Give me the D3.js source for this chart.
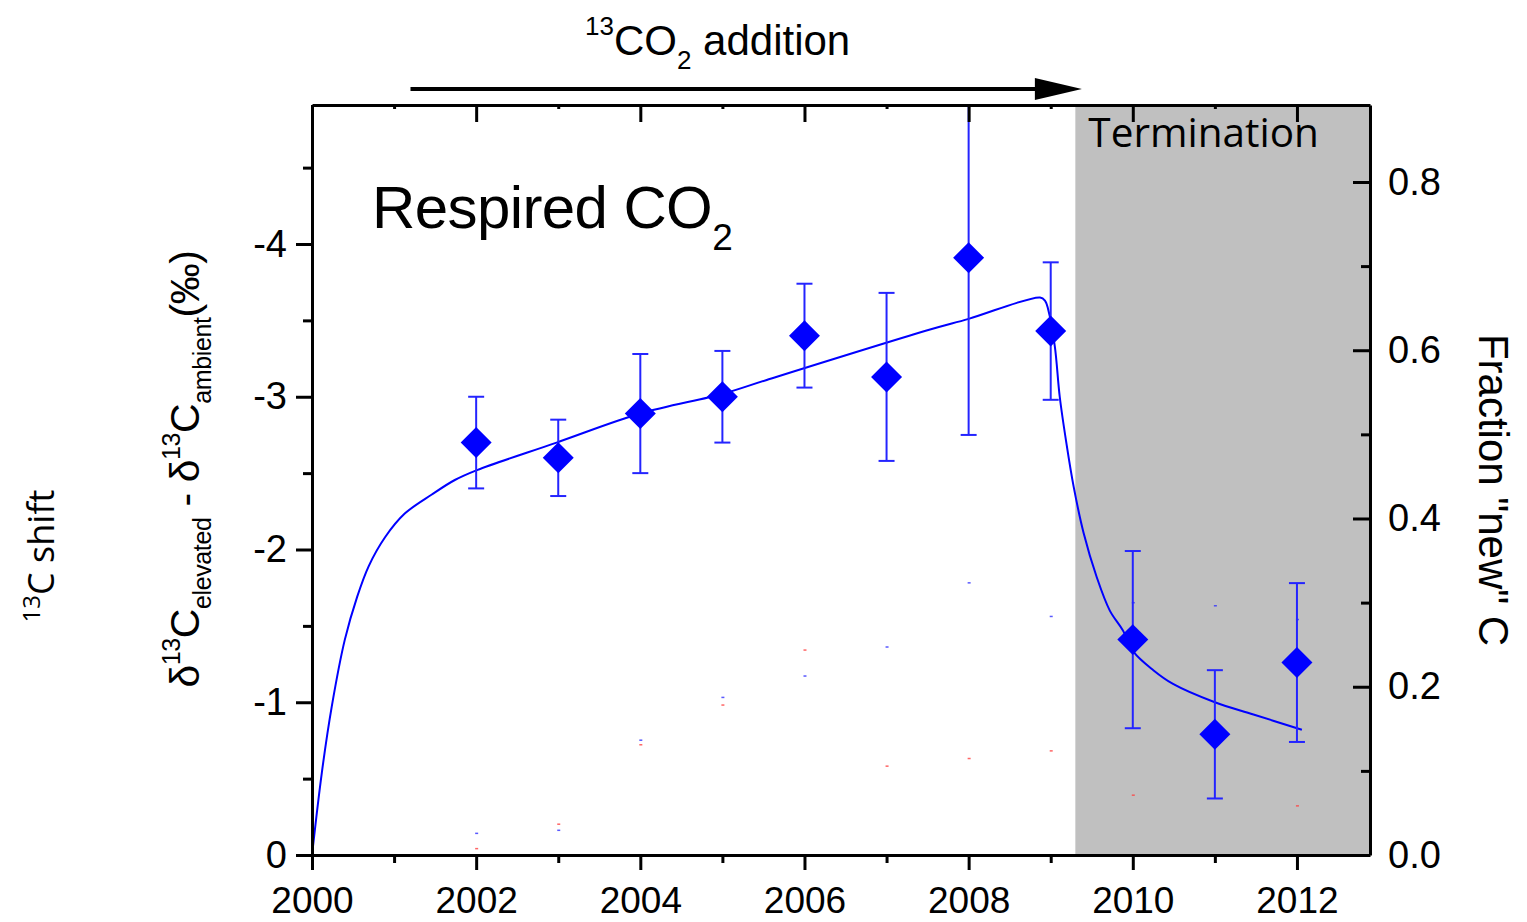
<!DOCTYPE html>
<html>
<head>
<meta charset="utf-8">
<script src="https://cdn.jsdelivr.net/npm/d3@7"></script>
<style>
  html, body { margin: 0; padding: 0; background: #fff; }
  svg { display: block; }
  text { font-family: "Liberation Sans", Arial, sans-serif; fill: #000; }
</style>
</head>
<body>
<svg id="chart" width="1527" height="922"></svg>
<script>
// Sampling years of respired CO2
const years = [2002, 2003, 2004, 2005, 2006, 2007, 2008, 2009, 2010, 2011, 2012];
// δ13C(elevated) − δ13C(ambient), ‰
const shift = [-2.70, -2.60, -2.89, -3.00, -3.40, -3.13, -3.91, -3.43, -1.41, -0.79, -1.26];
// Standard errors, ‰
const shiftErr = [0.30, 0.25, 0.39, 0.30, 0.34, 0.55, 1.16, 0.45, 0.58, 0.42, 0.52];

// Fitted two-pool model curve
const fitYears = [2000.00, 2000.12, 2000.24, 2000.40, 2000.55, 2000.69, 2000.89, 2001.13, 2001.46, 2001.74,
                  2002.01, 2002.98, 2004.00, 2005.01, 2005.54, 2007.53, 2008.00, 2008.87, 2008.93, 2008.97,
                  2009.05, 2009.11, 2009.19, 2009.28, 2009.40, 2009.56, 2009.72, 2009.88, 2010.01, 2010.25,
                  2010.49, 2011.00, 2011.47, 2012.06];
const fitValues = [0.00, -0.54, -0.97, -1.41, -1.69, -1.89, -2.08, -2.235, -2.36, -2.455,
                   -2.52, -2.70, -2.89, -3.02, -3.11, -3.44, -3.51, -3.65, -3.63, -3.57,
                   -3.33, -3.00, -2.70, -2.41, -2.11, -1.82, -1.60, -1.47, -1.33, -1.21,
                   -1.12, -1.00, -0.92, -0.82];

// Faint residual marks of hidden series
const faintBlueYears = [2002, 2003, 2004, 2005, 2006, 2007, 2008, 2009, 2010, 2011, 2012];
const faintBlue = [-0.14, -0.16, -0.75, -1.03, -1.17, -1.36, -1.78, -1.56, -1.65, -1.63, -1.54];
const faintRedYears = [2002, 2003, 2004, 2005, 2006, 2007, 2008, 2009, 2010, 2012];
const faintRed = [-0.04, -0.20, -0.72, -0.98, -1.34, -0.58, -0.63, -0.68, -0.39, -0.32];

// Periods
const additionSpan = [2001.2, 2009.38];
const terminationStart = 2009.3;

// Axis ticks
const xMajorTicks = [2000, 2002, 2004, 2006, 2008, 2010, 2012];
const xMinorTicks = [2001, 2003, 2005, 2007, 2009, 2011];
const yMajorTicks = [0, -1, -2, -3, -4];
const yMinorTicks = [-0.5, -1.5, -2.5, -3.5, -4.5];
const rMajorTicks = [0, 0.2, 0.4, 0.6, 0.8];
const rMinorTicks = [0.1, 0.3, 0.5, 0.7];

const L = 312, R = 1370, T = 105, B = 855;
const svg = d3.select("#chart");

const x = d3.scaleLinear().domain([2000, 2012.89]).range([L, R]);
const y = d3.scaleLinear().domain([0, -4.91]).range([B, T]);
const yR = d3.scaleLinear().domain([0, 0.8915]).range([B, T]);

svg.append("defs").append("clipPath").attr("id", "plotClip")
  .append("rect").attr("x", L).attr("y", T).attr("width", R - L).attr("height", B - T);

// Termination period shading
svg.append("rect")
  .attr("x", x(terminationStart)).attr("y", T)
  .attr("width", R - x(terminationStart)).attr("height", B - T)
  .attr("fill", "#c0c0c0");

svg.append("text")
  .attr("x", x(terminationStart) + 13).attr("y", 147)
  .style("font-family", "'Open Sans', 'Noto Sans', sans-serif")
  .style("font-size", "40.5px")
  .text("Termination");

// Faint marks
const plot = svg.append("g").attr("clip-path", "url(#plotClip)");
plot.selectAll("rect.fb").data(faintBlue).join("rect")
  .attr("x", (d, i) => x(faintBlueYears[i]) - 1).attr("y", d => y(d) - 1)
  .attr("width", 3).attr("height", 1.5).attr("fill", "#3030ff").attr("opacity", 0.8);
plot.selectAll("rect.fr").data(faintRed).join("rect")
  .attr("x", (d, i) => x(faintRedYears[i]) - 1).attr("y", d => y(d) - 1)
  .attr("width", 3).attr("height", 1.5).attr("fill", "#ff4040").attr("opacity", 0.8);

// Fit curve
const fitLine = d3.line()
  .x((d, i) => x(fitYears[i]))
  .y(d => y(d))
  .curve(d3.curveCatmullRom.alpha(0.5));
plot.append("path")
  .datum(fitValues)
  .attr("d", fitLine)
  .attr("fill", "none")
  .attr("stroke", "#0000ff")
  .attr("stroke-width", 2);

// Error bars
const eb = plot.append("g").attr("stroke", "#2424ff").attr("stroke-width", 2);
years.forEach((yr, i) => {
  const cx = x(yr);
  const y1 = y(shift[i] - shiftErr[i]);
  const y2 = y(shift[i] + shiftErr[i]);
  eb.append("line").attr("x1", cx).attr("x2", cx).attr("y1", y1).attr("y2", y2);
  eb.append("line").attr("x1", cx - 8).attr("x2", cx + 8).attr("y1", y1).attr("y2", y1);
  eb.append("line").attr("x1", cx - 8).attr("x2", cx + 8).attr("y1", y2).attr("y2", y2);
});

// Diamonds
const diamond = d3.symbol().type(d3.symbolSquare).size(480);
plot.selectAll("path.pt").data(shift).join("path")
  .attr("d", diamond)
  .attr("transform", (d, i) => `translate(${x(years[i])},${y(d)}) rotate(45)`)
  .attr("fill", "#0000ff");

// Axes
function styleAxis(g) {
  g.selectAll("path.domain").attr("stroke", "#000").attr("stroke-width", 3);
  g.selectAll(".tick line").attr("stroke", "#000").attr("stroke-width", 3);
  g.selectAll(".tick text").style("font-family", "'Liberation Sans', Arial, sans-serif");
}

// bottom
const gB = svg.append("g").attr("transform", `translate(0,${B})`)
  .call(d3.axisBottom(x).tickValues(xMajorTicks).tickSize(15).tickSizeOuter(0).tickFormat(d3.format("d")));
gB.call(styleAxis);
gB.selectAll(".tick text").attr("y", 58).attr("dy", 0).style("font-size", "37px").attr("fill", "#000");
const gBm = svg.append("g").attr("transform", `translate(0,${B})`)
  .call(d3.axisBottom(x).tickValues(xMinorTicks).tickSize(8).tickFormat(""));
gBm.call(styleAxis); gBm.select("path.domain").remove();

// top
const gT = svg.append("g").attr("transform", `translate(0,${T})`)
  .call(d3.axisTop(x).tickValues(xMajorTicks).tickSize(-17).tickSizeOuter(0).tickFormat(""));
gT.call(styleAxis);
const gTm = svg.append("g").attr("transform", `translate(0,${T})`)
  .call(d3.axisTop(x).tickValues(xMinorTicks).tickSize(-4).tickFormat(""));
gTm.call(styleAxis); gTm.select("path.domain").remove();

// left
const gL = svg.append("g").attr("transform", `translate(${L},0)`)
  .call(d3.axisLeft(y).tickValues(yMajorTicks).tickSize(16).tickPadding(9).tickSizeOuter(0).tickFormat(d => String(d)));
gL.call(styleAxis);
gL.selectAll(".tick text").style("font-size", "38px").attr("fill", "#000");
const gLm = svg.append("g").attr("transform", `translate(${L},0)`)
  .call(d3.axisLeft(y).tickValues(yMinorTicks).tickSize(9).tickFormat(""));
gLm.call(styleAxis); gLm.select("path.domain").remove();

// right
const gR = svg.append("g").attr("transform", `translate(${R},0)`)
  .call(d3.axisRight(yR).tickValues(rMajorTicks).tickSize(-17).tickPadding(18).tickSizeOuter(0).tickFormat(d3.format(".1f")));
gR.call(styleAxis);
gR.selectAll(".tick text").style("font-size", "38px").attr("fill", "#000");
const gRm = svg.append("g").attr("transform", `translate(${R},0)`)
  .call(d3.axisRight(yR).tickValues(rMinorTicks).tickSize(-9).tickFormat(""));
gRm.call(styleAxis); gRm.select("path.domain").remove();

// Addition arrow
const ay = 89;
const ax1 = x(additionSpan[0]), ax2 = x(additionSpan[1]);
svg.append("line").attr("x1", ax1).attr("x2", ax2 - 40).attr("y1", ay).attr("y2", ay)
  .attr("stroke", "#000").attr("stroke-width", 4);
svg.append("path")
  .attr("d", `M${ax2},${ay} L${ax2 - 47},${ay - 11} L${ax2 - 47},${ay + 11} Z`)
  .attr("fill", "#000");

// Title over the arrow
const title = svg.append("text").attr("x", 585).attr("y", 55).style("font-size", "42px");
title.append("tspan").style("font-size", "26px").attr("dy", -20).text("13");
title.append("tspan").attr("dy", 20).text("CO");
title.append("tspan").style("font-size", "26px").attr("dy", 14).text("2");
title.append("tspan").attr("dy", -14).text(" addition");

// Panel label
const panel = svg.append("text").attr("x", 372).attr("y", 228).style("font-size", "60px").style("letter-spacing", "-0.6px");
panel.append("tspan").text("Respired CO");
panel.append("tspan").style("font-size", "37px").attr("dy", 22).text("2");

// Left axis title
const lt = svg.append("text").attr("transform", "translate(199,469) rotate(-90)")
  .attr("text-anchor", "middle").style("font-size", "41px").style("letter-spacing", "-0.4px");
lt.append("tspan").text("δ");
lt.append("tspan").style("font-size", "25px").attr("dy", -19).text("13");
lt.append("tspan").attr("dy", 19).text("C");
lt.append("tspan").style("font-size", "25px").attr("dy", 12).text("elevated");
lt.append("tspan").attr("dy", -12).text(" - δ");
lt.append("tspan").style("font-size", "25px").attr("dy", -19).text("13");
lt.append("tspan").attr("dy", 19).text("C");
lt.append("tspan").style("font-size", "25px").attr("dy", 12).text("ambient");
lt.append("tspan").attr("dy", -12).text("(‰)");

// Outer label
const ol = svg.append("text").attr("transform", "translate(54,556) rotate(-90)")
  .attr("text-anchor", "middle")
  .style("font-family", "'Open Sans', 'Noto Sans', sans-serif").style("font-size", "36px");
ol.append("tspan").style("font-size", "24px").attr("dy", -14).text("13");
ol.append("tspan").attr("dy", 14).text("C shift");

// Right axis title
svg.append("text").attr("transform", "translate(1479,490) rotate(90)")
  .attr("text-anchor", "middle").style("font-size", "42px")
  .text("Fraction \"new\" C");
</script>
</body>
</html>
